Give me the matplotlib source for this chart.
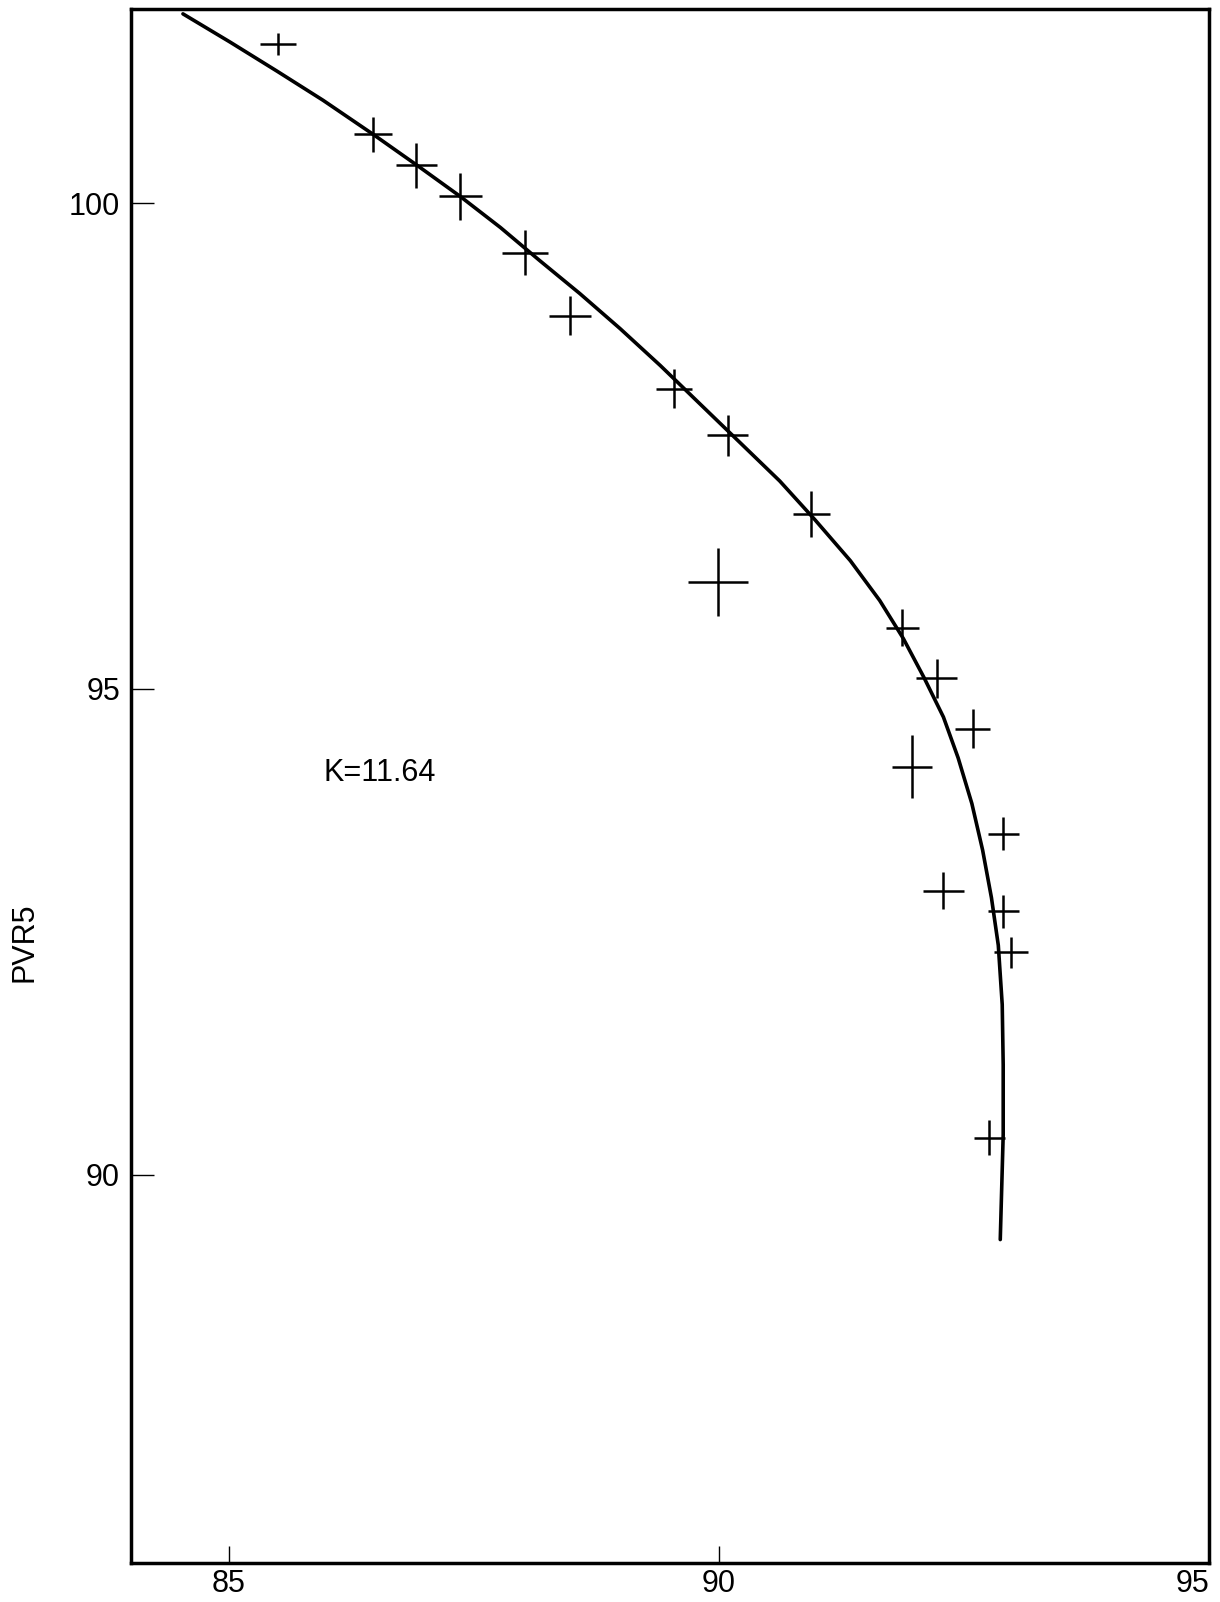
import matplotlib.pyplot as plt

# measured points, drawn as hand-style crosses
pvr_x = [85.50, 86.47, 86.91, 87.36, 88.02, 88.48, 89.54, 90.09, 90.94, 89.99,
         91.87, 92.22, 92.59, 91.97, 92.90, 92.29, 92.90, 92.98, 92.76]
pvr_y = [101.64, 100.71, 100.39, 100.07, 99.49, 98.84, 98.09, 97.61, 96.80, 96.10,
         95.63, 95.11, 94.59, 94.20, 93.51, 92.92, 92.71, 92.29, 90.38]
x_err = [0.18, 0.19, 0.21, 0.22, 0.23, 0.21, 0.18, 0.21, 0.19, 0.31,
         0.17, 0.21, 0.18, 0.20, 0.16, 0.21, 0.16, 0.17, 0.16]
y_err = [0.11, 0.18, 0.23, 0.24, 0.23, 0.20, 0.20, 0.21, 0.24, 0.35,
         0.19, 0.20, 0.20, 0.32, 0.17, 0.19, 0.17, 0.16, 0.18]

# fitted curve (K = 11.64)
curve_x = [84.53, 85.01, 85.49, 85.96, 86.47, 86.92, 87.36, 87.77, 88.17, 88.58,
           88.99, 89.40, 89.81, 90.21, 90.62, 90.98, 91.34, 91.64, 91.88, 92.09,
           92.29, 92.44, 92.58, 92.69, 92.78, 92.85, 92.89, 92.90, 92.90, 92.88, 92.87]
curve_y = [101.95, 101.66, 101.36, 101.06, 100.71, 100.39, 100.07, 99.75, 99.41, 99.07,
           98.71, 98.33, 97.93, 97.54, 97.14, 96.74, 96.32, 95.91, 95.52, 95.12,
           94.71, 94.29, 93.82, 93.34, 92.85, 92.36, 91.75, 91.13, 90.41, 89.69, 89.33]

x_ticks = [85, 90, 95]
y_ticks = [90, 95, 100]

plt.rcParams['font.family'] = ['Liberation Sans', 'DejaVu Sans']

fig = plt.figure(figsize=(12.2, 16.02), dpi=100)
ax = fig.add_axes([131 / 1220, 39 / 1602, 1078 / 1220, 1554 / 1602])

ax.plot(curve_x, curve_y, color='black', linewidth=2.6,
        solid_capstyle='round', solid_joinstyle='round')
ax.errorbar(pvr_x, pvr_y, xerr=x_err, yerr=y_err, fmt='none',
            ecolor='black', elinewidth=1.8, capsize=0)

ax.set_xlim(84, 95)
ax.set_ylim(86, 102)
ax.set_xticks(x_ticks)
ax.set_yticks(y_ticks)
ax.set_xticklabels([str(t) for t in x_ticks])
ax.set_yticklabels([str(t) for t in y_ticks])
ax.tick_params(axis='x', direction='in', length=12, width=1, labelsize=22, pad=4)
ax.tick_params(axis='y', direction='in', length=16.5, width=1, labelsize=22, pad=8)
ax.get_xticklabels()[-1].set_horizontalalignment('right')

for side in ['left', 'right', 'top', 'bottom']:
    ax.spines[side].set_linewidth(2.5)

ax.text(86.54, 94.13, 'K=11.64', ha='center', va='center', fontsize=22)
fig.text(25 / 1220, 1 - 942 / 1602, 'PVR5', rotation=90,
         ha='center', va='center', fontsize=22)

fig.savefig('out.png', dpi=100)
